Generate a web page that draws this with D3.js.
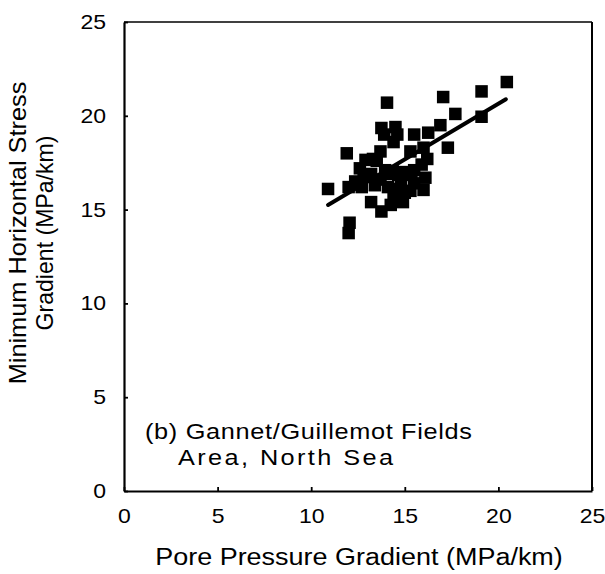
<!DOCTYPE html>
<html>
<head>
<meta charset="utf-8">
<script src="https://cdn.jsdelivr.net/npm/d3@7"></script>
<style>
  html, body { margin: 0; padding: 0; background: #fff; }
  svg { display: block; }
  text { font-family: "Liberation Sans", Arial, Helvetica, sans-serif; fill: #000; }
</style>
</head>
<body>
<svg id="chart" width="605" height="574"></svg>
<script>
// Pore pressure gradient (MPa/km)
const poreGradient = [
  10.9, 12.0, 11.9, 12.05, 12.0, 12.35, 12.6, 12.9, 12.7, 13.2,
  13.2, 13.4, 13.7, 13.75, 14.25, 13.75, 13.9, 13.95, 14.05, 14.1,
  14.35, 14.4, 14.5, 14.4, 14.65, 14.8, 15.0, 15.5, 15.35, 15.5,
  15.5, 15.9, 16.0, 16.1, 16.2, 16.0, 16.25, 16.9, 17.3, 17.05,
  17.7, 19.1, 19.1, 20.45, 14.6, 13.5, 12.8, 14.9, 14.2, 13.7,
  14.5, 15.3, 14.9, 13.3, 15.3
];
// Minimum horizontal stress gradient (MPa/km)
const shminGradient = [
  16.1, 16.2, 18.0, 14.3, 13.75, 16.5, 17.2, 17.65, 16.2, 16.9,
  15.4, 16.3, 18.1, 19.35, 15.25, 14.9, 19.0, 17.1, 20.7, 16.2,
  17.05, 18.6, 19.4, 15.8, 16.85, 16.4, 15.9, 17.1, 16.85, 16.4,
  19.0, 17.4, 16.05, 16.7, 17.7, 18.3, 19.1, 19.5, 18.3, 21.0,
  20.1, 21.3, 19.95, 21.8, 19.0, 17.6, 16.8, 17.0, 16.9, 16.6,
  16.1, 16.0, 15.4, 17.7, 18.1
];
// Fitted trend line end points (x, y)
const trendX = [10.9, 20.4];
const trendY = [15.25, 20.88];

const xTicks = [0, 5, 10, 15, 20, 25];
const yTicks = [0, 5, 10, 15, 20, 25];
const xTitle = "Pore Pressure Gradient (MPa/km)";
const yTitleLines = ["Minimum Horizontal Stress", "Gradient (MPa/km)"];
const noteLines = ["(b) Gannet/Guillemot Fields", "Area, North Sea"];

const svg = d3.select("#chart");
const plotLeft = 124, plotRight = 592, plotTop = 22, plotBottom = 491;
const tickFont = 20, tickWiden = 1.15, tickPad = 18;

const x = d3.scaleLinear().domain([0, 25]).range([plotLeft, plotRight]);
const y = d3.scaleLinear().domain([0, 25]).range([plotBottom, plotTop]);

// a label set in a slightly expanded face: glyphs widened up to 15%,
// any remaining length taken up by letter spacing
function label(parent, str, opt) {
  const g = parent.append("g")
    .attr("transform", `translate(${opt.x},${opt.y})` + (opt.rotate ? ` rotate(${opt.rotate})` : ""));
  const t = g.append("text").attr("font-size", opt.size)
    .attr("text-anchor", opt.anchor || "start").text(str);
  const w = t.node().getComputedTextLength();
  const ratio = opt.width / w;
  const s = Math.min(ratio, 1.15);
  t.attr("transform", `scale(${s},1)`);
  if (ratio > s) t.attr("textLength", opt.width / s).attr("lengthAdjust", "spacing");
  return t;
}

// frame: top and right edges
svg.append("line").attr("x1", plotLeft).attr("x2", plotRight).attr("y1", plotTop).attr("y2", plotTop)
  .attr("stroke", "#000").attr("stroke-width", 1.6);
svg.append("line").attr("x1", plotRight).attr("x2", plotRight).attr("y1", plotTop).attr("y2", plotBottom)
  .attr("stroke", "#000").attr("stroke-width", 2);

// bottom axis with inward ticks
const xAxis = svg.append("g").attr("transform", `translate(0,${plotBottom})`)
  .call(d3.axisBottom(x).tickValues(xTicks).tickSizeInner(-4).tickSizeOuter(0).tickPadding(tickPad));
xAxis.select(".domain").attr("stroke-width", 2.2);
xAxis.selectAll(".tick line").attr("stroke-width", 1.8);
xAxis.selectAll(".tick text").attr("font-size", tickFont)
  .style("font-family", "Liberation Sans, Arial, sans-serif")
  .attr("transform", `scale(${tickWiden},1)`);

// left axis with inward ticks
const yAxis = svg.append("g").attr("transform", `translate(${plotLeft},0)`)
  .call(d3.axisLeft(y).tickValues(yTicks).tickSizeInner(-4).tickSizeOuter(0).tickPadding(tickPad));
yAxis.select(".domain").attr("stroke-width", 2.2);
yAxis.selectAll(".tick line").attr("stroke-width", 1.8);
yAxis.selectAll(".tick text").attr("font-size", tickFont)
  .style("font-family", "Liberation Sans, Arial, sans-serif")
  .attr("x", -tickPad / tickWiden)
  .attr("transform", `scale(${tickWiden},1)`);

// axis titles
label(svg, xTitle, { x: (plotLeft + plotRight) / 2 + 1, y: 565, size: 24, anchor: "middle", width: 408 });
label(svg, yTitleLines[0], { x: 26, y: 233, rotate: -90, size: 23, anchor: "middle", width: 303 });
label(svg, yTitleLines[1], { x: 53, y: 233, rotate: -90, size: 23, anchor: "middle", width: 195 });

// field annotation
label(svg, noteLines[0], { x: 145, y: 439, size: 22, width: 327 });
label(svg, noteLines[1], { x: 178, y: 465, size: 22, width: 215 });

// data squares
const pts = poreGradient.map((v, i) => ({ px: v, sh: shminGradient[i] }));
const size = 12.5;
svg.append("g").selectAll("rect").data(pts).join("rect")
  .attr("x", d => x(d.px) - size / 2)
  .attr("y", d => y(d.sh) - size / 2)
  .attr("width", size).attr("height", size)
  .attr("fill", "#000");

// trend line
svg.append("line")
  .attr("x1", x(trendX[0])).attr("y1", y(trendY[0]))
  .attr("x2", x(trendX[1])).attr("y2", y(trendY[1]))
  .attr("stroke", "#000").attr("stroke-width", 4).attr("stroke-linecap", "round");
</script>
</body>
</html>
